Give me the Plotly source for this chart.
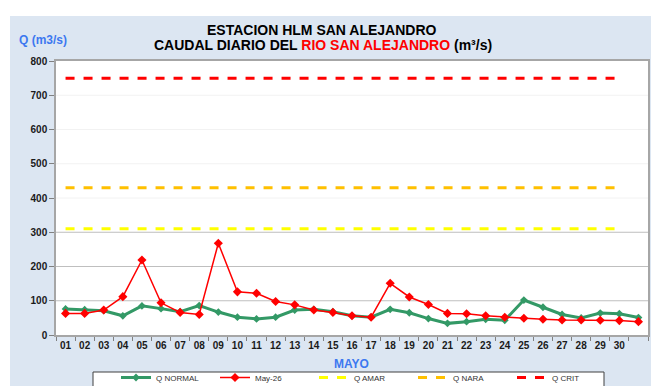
import plotly.graph_objects as go

# Day labels (the last slot carries no label)
days = [f"{d:02d}" for d in range(1, 31)] + [" "]

# Daily flow, m3/s
q_normal = [76, 74, 71, 56, 85, 77, 68, 86, 67, 52, 47, 52, 73, 75, 68, 56,
            52, 75, 65, 48, 34, 39, 46, 43, 102, 81, 60, 50, 64, 62, 51]
may_26 = [63, 63, 73, 112, 219, 94, 66, 60, 268, 126, 122, 98, 88, 73, 66, 56,
          52, 151, 111, 89, 63, 62, 56, 52, 49, 46, 44, 44, 43, 42, 39]

# Alert thresholds, m3/s (drawn over days 01-30)
q_amar = 310
q_nara = 430
q_crit = 750
threshold_days = days[:30]

strong_grid = [100, 200, 300]
faint_grid = [400, 500, 600, 700]

BLUE = "#3c78f0"
FONT = "Liberation Sans, Arial, sans-serif"

# figure and plot-area geometry in pixels
FW, FH = 651, 386
L, R, T, B = 56, 648, 61, 335
W, H = R - L, B - T


def px(xp):
    return (xp - L) / W


def py(yp):
    return (B - yp) / H


fig = go.Figure()

fig.add_trace(go.Scatter(
    x=days, y=q_normal, name="Q NORMAL", mode="lines+markers",
    line=dict(color="#339966", width=3),
    marker=dict(symbol="diamond", size=6, color="#339966"),
))
fig.add_trace(go.Scatter(
    x=days, y=may_26, name="May-26", mode="lines+markers",
    line=dict(color="#ff0000", width=1.5),
    marker=dict(symbol="diamond", size=7, color="#ff0000"),
))
for name, val, col in [("Q AMAR", q_amar, "#ffff00"),
                       ("Q NARA", q_nara, "#ffc000"),
                       ("Q CRIT", q_crit, "#ff0000")]:
    fig.add_trace(go.Scatter(
        x=threshold_days, y=[val] * len(threshold_days), name=name,
        mode="lines", line=dict(color=col, width=3, dash="dash"),
    ))

shapes = [
    # white bands around the light-blue chart panel
    dict(type="rect", xref="paper", yref="paper", x0=-0.2, x1=1.2,
         y0=py(16), y1=1.4, fillcolor="white", line_width=0, layer="below"),
    dict(type="rect", xref="paper", yref="paper", x0=-0.2, x1=px(10),
         y0=-0.3, y1=1.4, fillcolor="white", line_width=0, layer="below"),
    # legend frame
    dict(type="rect", xref="paper", yref="paper", x0=px(93), x1=px(604),
         y0=py(400), y1=py(372), fillcolor="white",
         line=dict(color="#404040", width=1), layer="below"),
]
for g in strong_grid:
    shapes.append(dict(type="line", xref="paper", yref="y", x0=0, x1=1, y0=g, y1=g,
                       line=dict(color="#bfbfbf", width=1), layer="below"))
for g in faint_grid:
    shapes.append(dict(type="line", xref="paper", yref="y", x0=0, x1=1, y0=g, y1=g,
                       line=dict(color="#f2f2f2", width=1), layer="below"))


def label(text, xp, yp, size, color):
    return dict(text=text, xref="paper", yref="paper", showarrow=False,
                x=px(xp), y=py(yp), xanchor="center", yanchor="middle",
                font=dict(size=size, family=FONT, color=color))


fig.update_layout(
    width=FW, height=FH,
    margin=dict(l=L, r=FW - R, t=T, b=FH - B),
    paper_bgcolor="#dce6f2",
    plot_bgcolor="white",
    font=dict(family=FONT, color="#1a1a1a"),
    shapes=shapes,
    showlegend=True,
    legend=dict(
        orientation="h",
        xref="container", x=116 / FW, xanchor="left",
        yref="container", y=1 - 363 / FH, yanchor="top",
        bgcolor="rgba(0,0,0,0)", borderwidth=0,
        font=dict(size=8, family=FONT, color="#333333"),
        entrywidth=54, itemwidth=30,
        traceorder="normal",
    ),
    annotations=[
        label("<b>ESTACION HLM SAN ALEJANDRO</b>", 322, 30, 14, "black"),
        label("<b>CAUDAL DIARIO DEL <span style='color:#ff0000'>RIO SAN ALEJANDRO</span> (m³/s)</b>",
              323, 45, 14, "black"),
        label("<b>Q (m3/s)</b>", 43, 40, 12, BLUE),
        label("<b>MAYO</b>", 351, 364, 12, BLUE),
    ],
)

fig.update_xaxes(
    type="category", categoryorder="array", categoryarray=days,
    tickmode="array", tickvals=days, ticktext=days,
    range=[-0.5, 30.5], tickangle=0, automargin=False,
    showgrid=False, zeroline=False,
    showline=True, linecolor="#a6a6a6", linewidth=1.5, mirror=True,
    ticks="outside", tickson="boundaries", ticklen=4, tickcolor="#808080",
    tickfont=dict(size=10, family=FONT, color="#1a1a1a", weight="bold"),
)
fig.update_yaxes(
    range=[0, 800], tickmode="linear", tick0=0, dtick=100, automargin=False,
    showgrid=False, zeroline=False,
    showline=True, linecolor="#a6a6a6", linewidth=1.5, mirror=True,
    ticks="outside", ticklen=5, tickcolor="#808080",
    tickfont=dict(size=10, family=FONT, color="#1a1a1a", weight="bold"),
)

fig.write_html("out.html")
